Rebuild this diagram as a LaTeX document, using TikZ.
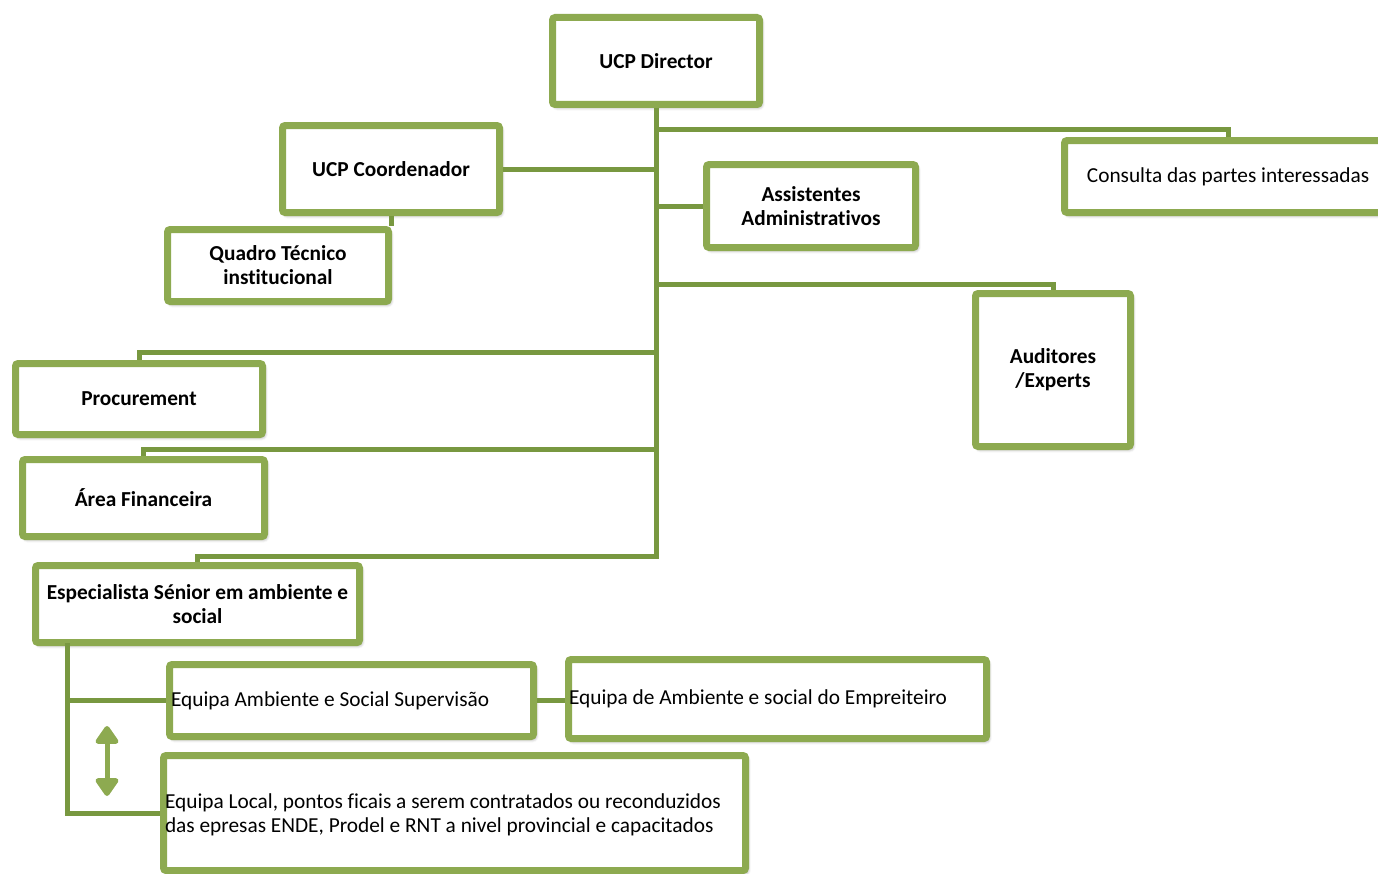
\documentclass[tikz,border=0pt]{standalone}
\usepackage{fontspec}
\setmainfont{Carlito}[Ligatures=CommonOff]
\usetikzlibrary{shadows.blur,arrows.meta}
\definecolor{boxgreen}{RGB}{141,170,80}
\definecolor{linegreen}{RGB}{120,152,64}
\def\u{0.75pt}
\tikzset{
  orgbox/.style={draw=boxgreen, line width=7*\u, fill=white, rounded corners=2pt,
    blur shadow={shadow xshift=1.5pt, shadow yshift=-2pt, shadow blur radius=2.5pt, shadow opacity=45},
    align=flush center, font=\fontsize{16}{18}\selectfont\bfseries, inner sep=2pt},
  plainbox/.style={orgbox, font=\fontsize{16}{18}\selectfont},
  leftbox/.style={plainbox, align=flush left},
  link/.style={draw=linegreen, line width=5*\u},
}
\begin{document}
\begin{tikzpicture}[x=0.75pt, y=-0.75pt]
\useasboundingbox (0,0) rectangle (1378,874);
\clip (0,0) rectangle (1378,874);

% connector junctions on the central trunk
\coordinate (j1) at (656,129);
\coordinate (j2) at (656,284);
\coordinate (j3) at (656,352);
\coordinate (j4) at (656,449);
\coordinate (tb) at (656,556);
\coordinate (k0) at (67,643);

% boxes (positions in pixel units)
\node[orgbox, minimum width=207*\u, minimum height=87*\u] (dir) at (656,61) {UCP Director};
\node[orgbox, minimum width=217*\u, minimum height=87*\u] (coord) at (391,169) {UCP Coordenador};
\node[orgbox, minimum width=221*\u, minimum height=72*\u] (quadro) at (278,265.5) {Quadro Técnico\\institucional};
\node[orgbox, minimum width=209*\u, minimum height=83*\u] (assist) at (811,206) {Assistentes\\Administrativos};
\node[plainbox, minimum width=327*\u, minimum height=72*\u] (consulta) at (1228,176.5) {Consulta das partes interessadas};
\node[orgbox, minimum width=155*\u, minimum height=153*\u] (audit) at (1053,370) {Auditores\\/Experts};
\node[orgbox, minimum width=247*\u, minimum height=71*\u] (proc) at (139,399) {Procurement};
\node[orgbox, minimum width=242*\u, minimum height=77*\u] (fin) at (143.5,498) {Área Financeira};
\node[orgbox, minimum width=324*\u, minimum height=77*\u, text width=316*\u] (esp) at (197.5,604) {Especialista Sénior em ambiente e social};
\node[leftbox, inner xsep=1.5*\u, text width=361*\u, minimum height=72*\u] (sup) at (351.5,700.5) {Equipa Ambiente e Social Supervisão};
\node[leftbox, inner xsep=0.5*\u, text width=417*\u, minimum height=79*\u] (emp) at (777.5,699) {Equipa de Ambiente e social do Empreiteiro};
\node[leftbox, inner xsep=1.5*\u, text width=579*\u, minimum height=115*\u] (local) at (454.5,813) {\rule{0pt}{14pt}Equipa Local, pontos ficais a serem contratados ou reconduzidos\\das epresas ENDE, Prodel e RNT a nivel provincial e capacitados};

% connectors
\draw[link] (dir.south) -- (tb) -| (esp.north);
\draw[link] (j1) -| (consulta.north);
\draw[link] (coord.east) -- (coord.east -| dir.south);
\draw[link] (assist.west) -- (assist.west -| dir.south);
\draw[link] (j2) -| (audit.north);
\draw[link] (j3) -| (proc.north);
\draw[link] (j4) -| (fin.north);
\draw[link] (coord.south) -- (coord.south |- quadro.north);
\draw[link] (k0) |- (local.west);
\draw[link] (k0 |- sup.west) -- (sup.west);
\draw[link] (sup.east) -- (sup.east -| emp.west);

% two-way arrow beside the local team
\coordinate (a1) at (107,726);
\coordinate (a2) at (107,796);
\draw[draw=boxgreen, line width=5*\u,
  {Triangle[width=26*\u,length=20*\u,round]}-{Triangle[width=26*\u,length=20*\u,round]}] (a1) -- (a2);
\end{tikzpicture}
\end{document}
